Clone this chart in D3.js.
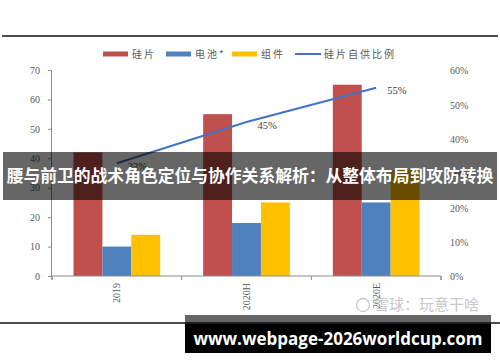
<!DOCTYPE html>
<html>
<head>
<meta charset="utf-8">
<script src="https://cdn.jsdelivr.net/npm/d3@7"></script>
<style>
  body { margin: 0; background: #fff; }
  svg { display: block; }
</style>
</head>
<body>
<div id="chart"></div>
<script>
// data
var categories = ["2019", "2020H", "2020E"];
var seriesNames = ["硅片", "电池*", "组件"];
var wafer = [42, 55, 65];
var cell = [10, 18, 25];
var module = [14, 25, 36];
var selfSupply = [33, 45, 55];
var leftTicks = [0, 10, 20, 30, 40, 50, 60, 70];
var rightTicks = [0, 10, 20, 30, 40, 50, 60];
var lineName = "硅片自供比例";
var bannerText = "腰与前卫的战术角色定位与协作关系解析：从整体布局到攻防转换";
var urlText = "www.webpage-2026worldcup.com";

var colors = ["#C0504D", "#4F81BD", "#FFC000"];
var lineColor = "#4472C4";

var fullwidth = 500, fullheight = 362;

var svg = d3.select("#chart")
  .append("svg")
    .attr("width", fullwidth)
    .attr("height", fullheight);

svg.append("rect")
  .attr("width", fullwidth).attr("height", fullheight)
  .attr("fill", "#fff");

// horizontal rules top and bottom
svg.append("line")
  .attr("x1", 2).attr("x2", 498).attr("y1", 36).attr("y2", 36)
  .attr("stroke", "#111").attr("stroke-width", 1.5);
svg.append("line")
  .attr("x1", 0).attr("x2", 500).attr("y1", 323).attr("y2", 323)
  .attr("stroke", "#111").attr("stroke-width", 1.5);

// scales
var xScale = d3.scaleBand()
  .domain(categories)
  .range([52, 441]);
var xInner = d3.scaleBand()
  .domain(seriesNames)
  .range([21.5, xScale.bandwidth() - 21.5]);
var yLeft = d3.scaleLinear().domain([0, 70]).range([276, 70]);
var yRight = d3.scaleLinear().domain([0, 60]).range([276.5, 70.5]);

var labelFont = "'Liberation Serif', 'DejaVu Serif', serif";

// bars
var seriesData = [wafer, cell, module];
seriesData.forEach(function(values, s) {
  svg.selectAll(".bar" + s)
    .data(values)
    .enter()
    .append("rect")
      .attr("x", function(d, i) { return xScale(categories[i]) + xInner(seriesNames[s]); })
      .attr("y", function(d) { return yLeft(d); })
      .attr("width", xInner.bandwidth())
      .attr("height", function(d) { return yLeft(0) - yLeft(d); })
      .style("fill", colors[s]);
});

// left axis
var leftAxis = svg.append("g")
  .attr("transform", "translate(51,0)")
  .call(d3.axisLeft(yLeft).tickValues(leftTicks).tickSize(3).tickPadding(8));
leftAxis.select(".domain").attr("stroke", "#8c8c8c");
leftAxis.selectAll(".tick line").attr("stroke", "#8c8c8c");
leftAxis.selectAll("text")
  .attr("fill", "#595959")
  .style("font-family", labelFont)
  .style("font-size", "10px");

// right axis (labels only)
var rightAxis = svg.append("g")
  .attr("transform", "translate(446,0)")
  .call(d3.axisRight(yRight).tickValues(rightTicks).tickSize(0).tickPadding(4)
    .tickFormat(function(d) { return d + "%"; }));
rightAxis.select(".domain").remove();
rightAxis.selectAll("text")
  .attr("fill", "#595959")
  .style("font-family", labelFont)
  .style("font-size", "10px");

// bottom axis
var xAxis = svg.append("g")
  .attr("transform", "translate(0,276)")
  .call(d3.axisBottom(xScale).tickSizeOuter(4).tickSizeInner(0));
xAxis.select(".domain").attr("stroke", "#8c8c8c").attr("d", "M52,4V0H441V4");
xAxis.selectAll(".tick text")
  .attr("fill", "#595959")
  .style("font-family", labelFont)
  .style("font-size", "10px")
  .style("text-anchor", "end")
  .attr("x", 0).attr("y", 0)
  .attr("dx", "-7px")
  .attr("dy", "0.35em")
  .attr("transform", "rotate(-90)");
// category separators
svg.selectAll(".sep")
  .data(categories.concat(["end"]))
  .enter()
  .append("line")
    .attr("x1", function(d, i) { return i < categories.length ? xScale(d) : xScale.range()[1]; })
    .attr("x2", function(d, i) { return i < categories.length ? xScale(d) : xScale.range()[1]; })
    .attr("y1", 276).attr("y2", 280)
    .attr("stroke", "#8c8c8c");

// self supply line
var line = d3.line()
  .x(function(d, i) { return xScale(categories[i]) + xScale.bandwidth() / 2; })
  .y(function(d) { return yRight(d); });
svg.append("path")
  .datum(selfSupply)
  .attr("d", line)
  .attr("fill", "none")
  .attr("stroke", lineColor)
  .attr("stroke-width", 2);

svg.selectAll(".plabel")
  .data(selfSupply)
  .enter()
  .append("text")
    .attr("x", function(d, i) { return xScale(categories[i]) + xScale.bandwidth() / 2 + 11; })
    .attr("y", function(d) { return yRight(d) + 3; })
    .attr("dy", "0.35em")
    .attr("fill", "#404040")
    .style("font-family", labelFont)
    .style("font-size", "10.5px")
    .text(function(d) { return d + "%"; });

// legend
var legendY = 54;
var legendItems = [
  {name: seriesNames[0], x: 103, type: "bar", color: colors[0]},
  {name: seriesNames[1], x: 166, type: "bar", color: colors[1]},
  {name: seriesNames[2], x: 232, type: "bar", color: colors[2]},
  {name: lineName, x: 295, type: "line", color: lineColor}
];
legendItems.forEach(function(item) {
  if (item.type == "bar") {
    svg.append("rect")
      .attr("x", item.x).attr("y", legendY - 2.5)
      .attr("width", 25).attr("height", 5)
      .attr("fill", item.color);
  } else {
    svg.append("line")
      .attr("x1", item.x).attr("x2", item.x + 26)
      .attr("y1", legendY).attr("y2", legendY)
      .attr("stroke", item.color).attr("stroke-width", 2);
  }
  svg.append("text")
    .attr("x", item.x + 29).attr("y", legendY)
    .attr("dy", "0.35em")
    .attr("fill", "#595959")
    .style("font-family", "'Noto Sans CJK SC', sans-serif")
    .style("font-size", "10px")
    .style("letter-spacing", "2px")
    .text(item.name);
});

// watermark
svg.append("circle")
  .attr("cx", 363).attr("cy", 305).attr("r", 6.5)
  .attr("fill", "none").attr("stroke", "#c8c8c8").attr("stroke-width", 1.3);
svg.append("text")
  .attr("x", 374).attr("y", 305)
  .attr("dy", "0.35em")
  .attr("fill", "#c8c8c8")
  .style("font-family", "'Noto Sans CJK SC', sans-serif")
  .style("font-size", "15px")
  .text("雪球：玩意干啥");

// overlay banner
svg.append("rect")
  .attr("x", 3).attr("y", 152).attr("width", 494).attr("height", 48)
  .attr("fill", "rgba(0,0,0,0.6)");
svg.append("text")
  .attr("x", 250).attr("y", 176)
  .attr("dy", "0.35em")
  .attr("text-anchor", "middle")
  .attr("fill", "#fff")
  .style("font-family", "'Noto Sans CJK SC', sans-serif")
  .style("font-weight", "bold")
  .style("font-size", "16.8px")
  .text(bannerText);

// url box
svg.append("rect")
  .attr("x", 185).attr("y", 315).attr("width", 306).attr("height", 38)
  .attr("fill", "rgba(0,0,0,0.6)");
svg.append("rect")
  .attr("x", 185).attr("y", 324).attr("width", 306).attr("height", 29)
  .attr("fill", "#000");
svg.append("text")
  .attr("x", 338).attr("y", 339)
  .attr("dy", "0.35em")
  .attr("text-anchor", "middle")
  .attr("fill", "#fff")
  .style("font-family", "'Open Sans', 'DejaVu Sans', sans-serif")
  .style("font-weight", "bold")
  .style("font-size", "17px")
  .text(urlText);
</script>
</body>
</html>
